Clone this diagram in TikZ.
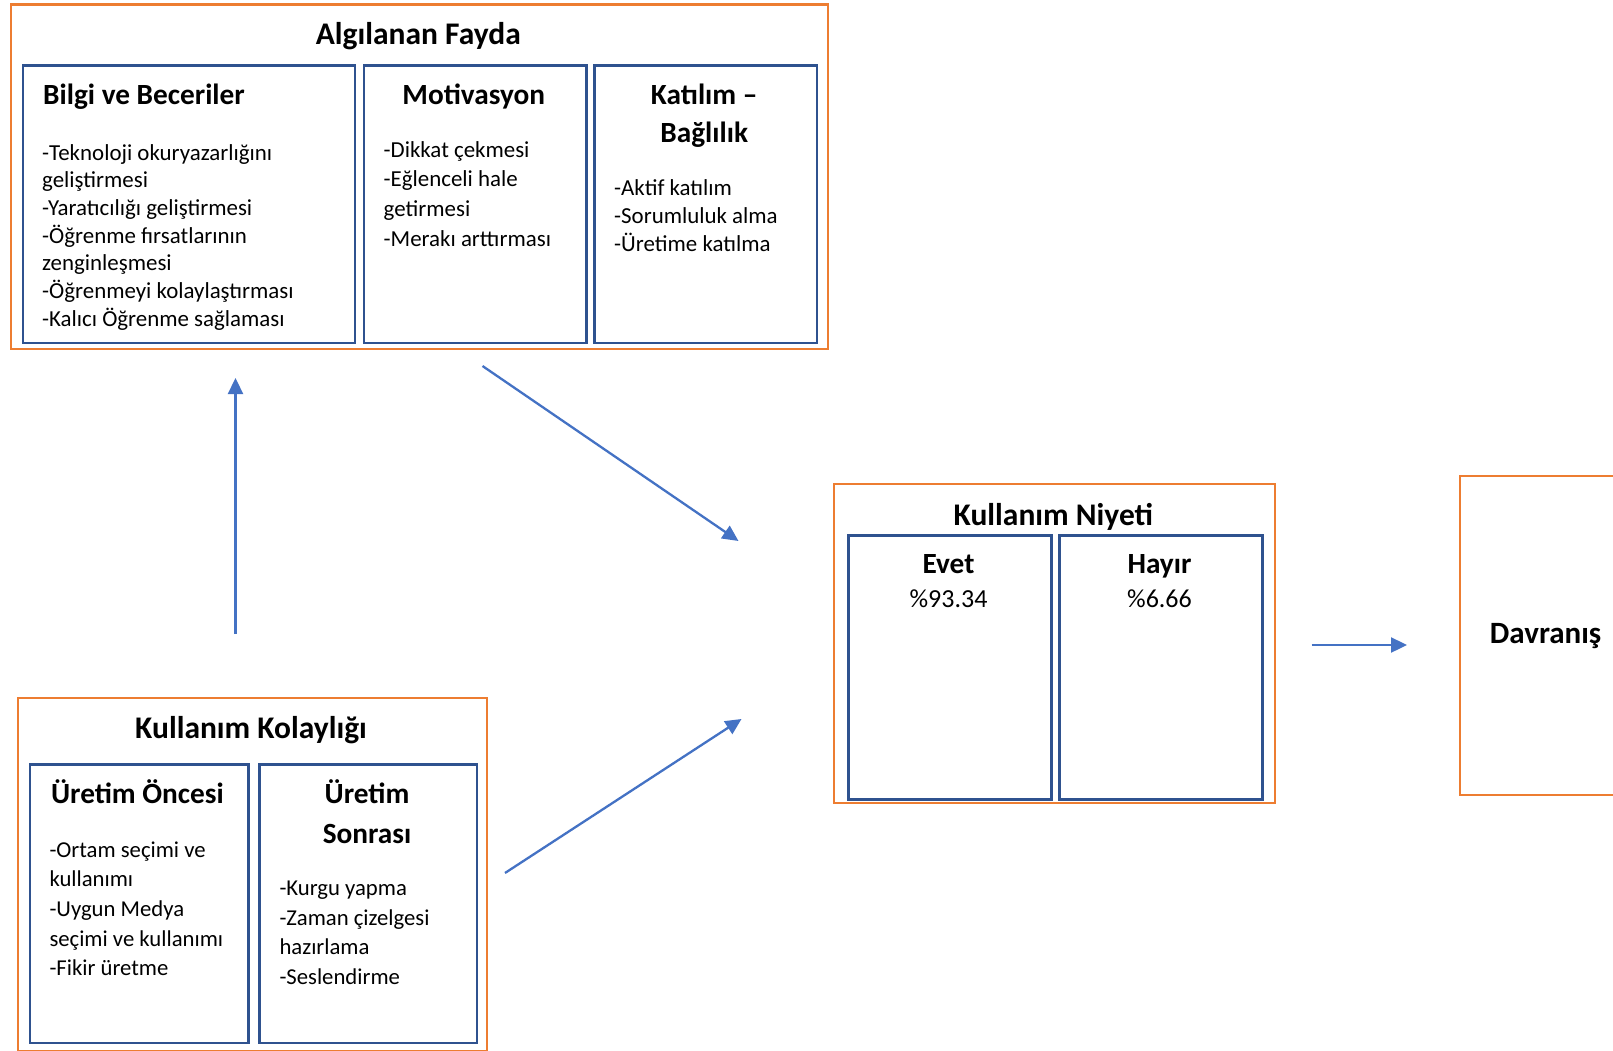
\documentclass[tikz,border=0pt]{standalone}
\usepackage{fontspec}
\setmainfont{Carlito}
\usetikzlibrary{arrows.meta}
\definecolor{orangec}{HTML}{ED7D31}
\definecolor{bluec}{HTML}{2F528F}
\definecolor{arrowc}{HTML}{4472C4}
\tikzset{
  orangebox/.style={draw=orangec, line width=2.2pt, inner sep=0pt, anchor=north west},
  bluebox/.style={draw=bluec, line width=2.8pt, inner sep=0pt, anchor=north west},
  flow/.style={draw=arrowc, line width=2.3pt, -{Triangle[length=16pt,width=15pt]}},
  titlef/.style={font=\bfseries\fontsize{31.5}{38}\selectfont, inner sep=0pt, anchor=base},
  subf/.style={font=\bfseries\fontsize{29.3}{37.7}\selectfont, inner sep=0pt},
  bodyf/.style={inner sep=0pt, anchor=base west, align=left},
  pctf/.style={font=\fontsize{26}{30}\selectfont, inner sep=0pt, anchor=base}
}
\begin{document}
\begin{tikzpicture}[x=1pt,y=-1pt]
\useasboundingbox (0,0) rectangle (1613,1051);
% --- Algilanan Fayda ---
\node[orangebox, minimum width=817.5pt, minimum height=344.2pt] (fayda) at (9.5,3.5) {};
\node[bluebox, minimum width=332pt, minimum height=277.5pt] (bilgi) at (21.5,64) {};
\node[bluebox, minimum width=222.5pt, minimum height=277.5pt] (motiv) at (362.5,64) {};
\node[bluebox, minimum width=222.5pt, minimum height=277.5pt] (katil) at (593,64) {};
\node[titlef] (faydaT) at (418.3,45) {Algılanan Fayda};
\node[subf, anchor=base west] (bilgiT) at (43,104.5) {Bilgi ve Beceriler};
% multi-line nodes: base anchor = baseline of the last line
\node[bodyf, font=\fontsize{22.9}{27.7}\selectfont] (bilgiB) at (42,326.2)
  {-Teknoloji okuryazarlığını\\geliştirmesi\\-Yaratıcılığı geliştirmesi\\-Öğrenme fırsatlarının\\zenginleşmesi\\-Öğrenmeyi kolaylaştırması\\-Kalıcı Öğrenme sağlaması};
\node[subf, anchor=base] (motivT) at (473.8,104.5) {Motivasyon};
\node[bodyf, font=\fontsize{22.9}{29.7}\selectfont] (motivB) at (383.5,246.1)
  {-Dikkat çekmesi\\-Eğlenceli hale\\getirmesi\\-Merakı arttırması};
\node[subf, anchor=base, align=center] (katilT) at (704.2,142.2) {Katılım –\\Bağlılık};
\node[bodyf, font=\fontsize{22.9}{28}\selectfont] (katilB) at (614,251.3)
  {-Aktif katılım\\-Sorumluluk alma\\-Üretime katılma};
% --- Kullanim Kolayligi ---
\node[orangebox, minimum width=469pt, minimum height=353pt] (kolay) at (16.5,696.5) {};
\node[bluebox, minimum width=218.5pt, minimum height=278.5pt] (once) at (28.5,763) {};
\node[bluebox, minimum width=217.5pt, minimum height=278.5pt] (sonra) at (258,763) {};
\node[titlef] (kolayT) at (251,738) {Kullanım Kolaylığı};
\node[subf, anchor=base] (onceT) at (137.5,803) {Üretim Öncesi};
\node[bodyf, font=\fontsize{22.7}{29.7}\selectfont] (onceB) at (49.3,975.8)
  {-Ortam seçimi ve\\kullanımı\\-Uygun Medya\\seçimi ve kullanımı\\-Fikir üretme};
\node[subf, anchor=base, align=center, font=\bfseries\fontsize{29.3}{40}\selectfont] (sonraT) at (367,843) {Üretim\\Sonrası};
\node[bodyf, font=\fontsize{22.7}{29.8}\selectfont] (sonraB) at (279.3,984.7)
  {-Kurgu yapma\\-Zaman çizelgesi\\hazırlama\\-Seslendirme};
% --- Kullanim Niyeti ---
\node[orangebox, minimum width=441.5pt, minimum height=318.5pt] (niyet) at (832.5,483) {};
\node[bluebox, minimum width=203pt, minimum height=264pt] (evet) at (847,534) {};
\node[bluebox, minimum width=203pt, minimum height=264pt] (hayir) at (1058,534) {};
\node[titlef] (niyetT) at (1053.3,525) {Kullanım Niyeti};
\node[subf, anchor=base] (evetT) at (948.5,573.5) {Evet};
\node[pctf] (evetP) at (948.5,607) {\%93.34};
\node[subf, anchor=base] (hayirT) at (1159.5,573.5) {Hayır};
\node[pctf] (hayirP) at (1159.5,607) {\%6.66};
% --- Davranis ---
\node[orangebox, minimum width=172pt, minimum height=319pt,
      font=\bfseries\fontsize{31}{38}\selectfont] (davr) at (1458.5,475) {Davranış};
% --- connectors ---
\coordinate (a1s) at (235.5,634);
\coordinate (a1e) at (235.5,378);
\coordinate (a2s) at (482.5,366);
\coordinate (a2e) at (738.5,541);
\coordinate (a3s) at (505,873);
\coordinate (a3e) at (741.5,719);
\coordinate (a4s) at (1311.6,645);
\coordinate (a4e) at (1407,645);
\draw[flow] (a1s) -- (a1e);
\draw[flow] (a2s) -- (a2e);
\draw[flow] (a3s) -- (a3e);
\draw[flow] (a4s) -- (a4e);
\end{tikzpicture}
\end{document}
